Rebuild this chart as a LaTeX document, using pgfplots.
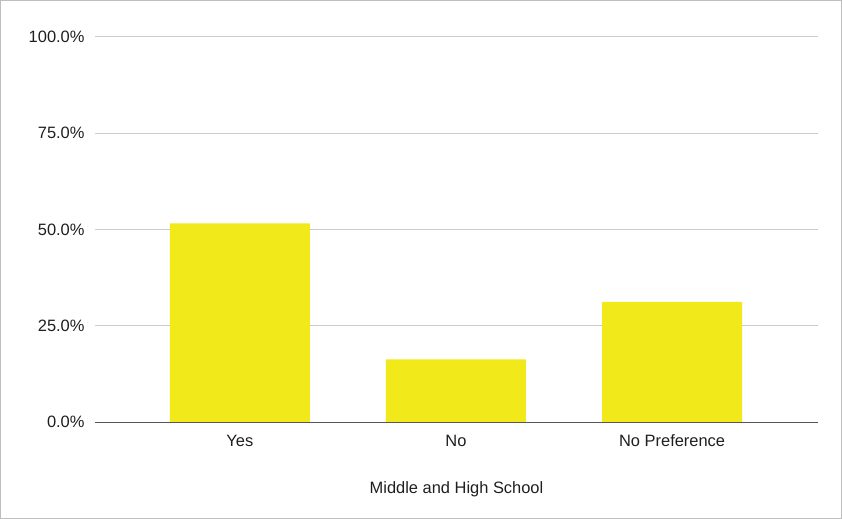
\documentclass[border=0pt]{standalone}
\usepackage{pgfplots}
\pgfplotsset{compat=1.18}
\usepackage{fontspec}
\setmainfont{Liberation Sans}
\definecolor{baryellow}{RGB}{241,233,26}
\definecolor{gridgray}{RGB}{204,204,204}
\definecolor{axisgray}{RGB}{85,85,85}
\definecolor{bordergray}{RGB}{190,190,190}
\begin{document}
\begin{tikzpicture}
\begin{axis}[
  scale only axis,
  width=723bp, height=385.6bp,
  xmin=-0.67, xmax=2.675,
  ymin=0, ymax=100,
  ybar, bar width=140bp,
  xtick={0,1,2}, xticklabels={Yes,No,No Preference},
  ytick={0,25,50,75,100},
  yticklabel={\pgfmathprintnumber[fixed,fixed zerofill,precision=1]{\tick}\%},
  /pgf/number format/assume math mode=true,
  ymajorgrids, grid style={gridgray, line width=0.9bp},
  axis line style={draw=none},
  axis x line*=bottom,
  axis y line*=left,
  major tick length=0pt,
  tick label style={font=\fontsize{16.5}{19}\selectfont, text=black!88},
  yticklabel style={xshift=-7bp},
  xticklabel style={yshift=-9bp},
  xlabel={Middle and High School},
  xlabel style={font=\fontsize{16.5}{19}\selectfont, text=black!88, yshift=-28bp},
  clip=false,
]
\addplot[fill=baryellow, draw=none, bar shift=0pt] coordinates {(0,51.6) (1,16.3) (2,31.2)};
\draw[axisgray, line width=1.1bp] (axis cs:-0.67,0) -- (axis cs:2.675,0);
\end{axis}
\draw[bordergray, line width=1bp] (-94.5bp,-96.2bp) rectangle (746.5bp,421.8bp);
\useasboundingbox (-95bp,-96.7bp) rectangle (747bp,422.3bp);
\end{tikzpicture}
\end{document}
